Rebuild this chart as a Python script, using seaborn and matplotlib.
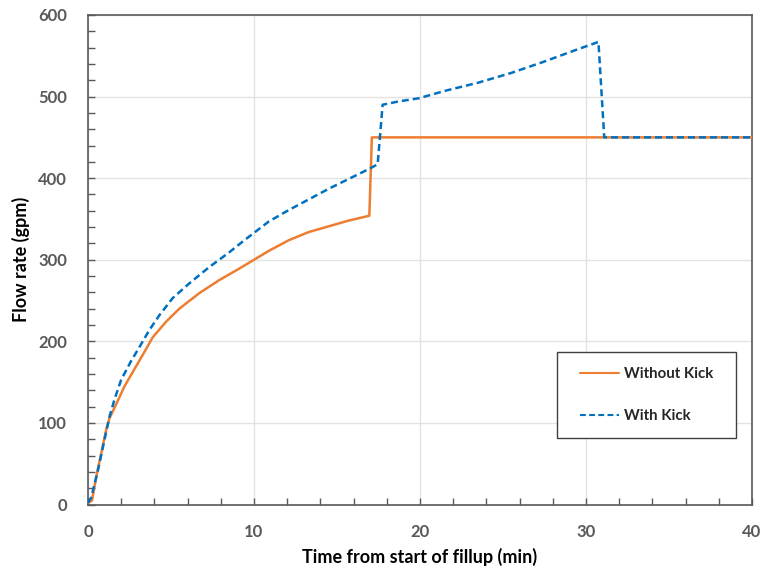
import matplotlib
matplotlib.use("Agg")
import matplotlib.pyplot as plt
import seaborn as sns
import pandas as pd
from matplotlib.ticker import MultipleLocator
from matplotlib.patches import Rectangle

# ---- data ----
series_names = ["Without Kick", "With Kick"]

t_without = [0, 0.24, 0.5, 0.8, 1.1, 1.3, 1.7, 2.2, 2.8, 3.4, 3.9, 4.7, 5.5, 6.7, 7.9,
             9.1, 10, 10.9, 12.1, 13.3, 14.5, 15.7, 16.95, 17.1, 40]
q_without = [2, 5, 34, 63, 92, 106, 123, 145, 166, 187, 205, 224, 240, 259, 275,
             289, 300, 311, 324, 334, 341, 348, 354, 450, 450]

t_with = [0, 0.2, 0.6, 1.0, 1.3, 1.6, 2.0, 2.6, 3.1, 3.7, 4.3, 5.1, 6.1, 7.3, 8.5,
          9.3, 10, 10.9, 12.1, 13.3, 14.5, 15.7, 16.9, 17.45, 17.75, 18.7, 19.94, 21.5,
          23.5, 25.5, 27.5, 29.1, 30.75, 31.1, 40]
q_with = [2, 9, 42, 80, 108, 129, 153, 176, 193, 214, 232, 253, 271, 291, 309,
          322, 333, 347, 361, 374, 387, 399, 411, 417, 490, 494, 498, 507,
          517, 529, 543, 555, 567, 450, 450]

x_ticks = [0, 10, 20, 30, 40]
y_ticks = [0, 100, 200, 300, 400, 500, 600]

df = pd.concat([
    pd.DataFrame({"t": t_without, "q": q_without, "series": series_names[0]}),
    pd.DataFrame({"t": t_with, "q": q_with, "series": series_names[1]}),
], ignore_index=True)

sns.set_theme(style="white")
plt.rcParams["font.family"] = ["Lato", "DejaVu Sans"]

fig = plt.figure(figsize=(7.65, 5.76), dpi=100)
ax = fig.add_axes([0.115, 0.124, 0.868, 0.850])

sns.lineplot(data=df, x="t", y="q", hue="series", style="series",
             palette={"Without Kick": "#ED7D31", "With Kick": "#0070C0"},
             dashes={"Without Kick": "", "With Kick": (2.8, 1.6)},
             estimator=None, sort=False, linewidth=1.8, ax=ax, zorder=3)

ax.set_xlim(0, 40)
ax.set_ylim(0, 600)
ax.set_xticks(x_ticks)
ax.set_yticks(y_ticks)
ax.xaxis.set_minor_locator(MultipleLocator(2))
ax.yaxis.set_minor_locator(MultipleLocator(20))
ax.grid(True, which="major", color="#E3E3E3", linewidth=1.0, zorder=0)
ax.set_axisbelow(True)

grey = "#595959"
for side in ["left", "bottom", "top", "right"]:
    ax.spines[side].set_visible(True)
    ax.spines[side].set_color(grey)
    ax.spines[side].set_linewidth(1.2)

ax.tick_params(axis="both", which="both", direction="in", length=5, width=1,
               color=grey, left=True, bottom=True, top=False, right=False)
ax.tick_params(axis="y", which="major", pad=15)
ax.tick_params(axis="x", which="major", pad=14)
for lab in ax.get_xticklabels() + ax.get_yticklabels():
    lab.set_fontsize(12)
    lab.set_fontweight("bold")
    lab.set_color(grey)

ax.set_xlabel("Time from start of fillup (min)", fontsize=13, fontweight="bold",
              color="black", labelpad=6)
ax.set_ylabel("Flow rate (gpm)", fontsize=13, fontweight="bold",
              color="black", labelpad=6)

handles, labels = ax.get_legend_handles_labels()
leg = ax.legend(handles, labels, loc="center", bbox_to_anchor=(0.841, 0.224),
                frameon=False, prop={"weight": "bold", "size": 10.8},
                handlelength=2.6, handletextpad=0.3, labelspacing=1.85,
                borderpad=0.5, borderaxespad=0)
for line in leg.get_lines():
    line.set_linewidth(1.5)

# legend frame
ax.add_patch(Rectangle((0.7063, 0.1357), 0.2696, 0.1755, transform=ax.transAxes,
                       fill=True, facecolor="white", edgecolor="#404040",
                       linewidth=1.0, zorder=4))
leg.set_zorder(5)

fig.savefig("out.png", dpi=100)
